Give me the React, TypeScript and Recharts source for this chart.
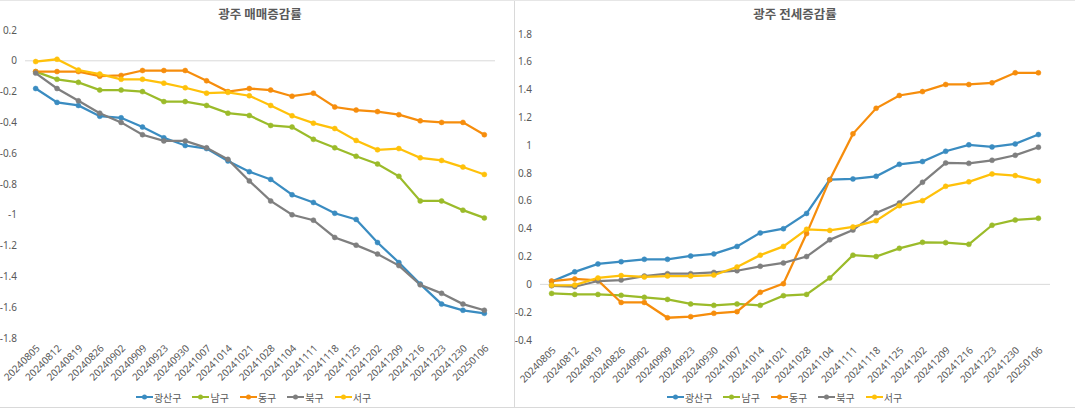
import React from 'react';
import { LineChart, Line, XAxis, YAxis, ReferenceLine, Legend } from 'recharts';

const DATES = [
  '20240805', '20240812', '20240819', '20240826', '20240902', '20240909', '20240923', '20240930',
  '20241007', '20241014', '20241021', '20241028', '20241104', '20241111', '20241118', '20241125',
  '20241202', '20241209', '20241216', '20241223', '20241230', '20250106',
];

const DISTRICTS = ['광산구', '남구', '동구', '북구', '서구'];
const COLORS = ['#3a8cc1', '#9bbb2a', '#f68d0c', '#7f7f7f', '#ffc10a'];

// 매매증감률
const SALE_GWANGSAN = [-0.18, -0.27, -0.29, -0.36, -0.37, -0.43, -0.5, -0.55, -0.57, -0.65, -0.72, -0.77, -0.87, -0.92, -0.99, -1.03, -1.18, -1.31, -1.45, -1.58, -1.62, -1.64];
const SALE_NAM = [-0.07, -0.12, -0.14, -0.19, -0.19, -0.2, -0.265, -0.265, -0.29, -0.34, -0.355, -0.42, -0.43, -0.51, -0.565, -0.62, -0.67, -0.75, -0.91, -0.91, -0.97, -1.02];
const SALE_DONG = [-0.07, -0.07, -0.07, -0.1, -0.095, -0.063, -0.063, -0.063, -0.13, -0.2, -0.18, -0.19, -0.23, -0.21, -0.3, -0.32, -0.33, -0.35, -0.39, -0.4, -0.4, -0.48];
const SALE_BUK = [-0.08, -0.18, -0.26, -0.34, -0.4, -0.48, -0.52, -0.52, -0.565, -0.64, -0.78, -0.91, -1.0, -1.035, -1.147, -1.197, -1.255, -1.33, -1.455, -1.51, -1.58, -1.62];
const SALE_SEO = [-0.005, 0.01, -0.06, -0.086, -0.12, -0.12, -0.145, -0.175, -0.21, -0.205, -0.227, -0.29, -0.357, -0.405, -0.44, -0.517, -0.578, -0.57, -0.63, -0.647, -0.69, -0.738];

// 전세증감률
const RENT_GWANGSAN = [0.02, 0.09, 0.147, 0.163, 0.18, 0.18, 0.204, 0.219, 0.273, 0.37, 0.4, 0.51, 0.753, 0.758, 0.777, 0.863, 0.883, 0.957, 1.003, 0.988, 1.01, 1.077];
const RENT_NAM = [-0.065, -0.072, -0.072, -0.079, -0.093, -0.108, -0.141, -0.151, -0.141, -0.151, -0.081, -0.072, 0.046, 0.21, 0.2, 0.259, 0.302, 0.3, 0.288, 0.425, 0.463, 0.475];
const RENT_DONG = [0.024, 0.039, 0.029, -0.13, -0.13, -0.24, -0.232, -0.208, -0.196, -0.057, 0.005, 0.365, 0.753, 1.082, 1.266, 1.358, 1.386, 1.437, 1.437, 1.449, 1.521, 1.521];
const RENT_BUK = [-0.01, -0.017, 0.024, 0.031, 0.06, 0.077, 0.077, 0.086, 0.098, 0.13, 0.154, 0.2, 0.32, 0.39, 0.514, 0.585, 0.734, 0.873, 0.87, 0.892, 0.928, 0.986];
const RENT_SEO = [-0.007, -0.005, 0.046, 0.063, 0.053, 0.06, 0.06, 0.067, 0.125, 0.21, 0.273, 0.396, 0.388, 0.413, 0.458, 0.566, 0.602, 0.705, 0.737, 0.794, 0.782, 0.744];

const SALE_TICKS = [0.2, 0, -0.2, -0.4, -0.6, -0.8, -1, -1.2, -1.4, -1.6, -1.8];
const RENT_TICKS = [1.8, 1.6, 1.4, 1.2, 1, 0.8, 0.6, 0.4, 0.2, 0, -0.2, -0.4];

const build = (series: number[][]) =>
  DATES.map((d, i) => {
    const row: Record<string, string | number> = { date: d };
    DISTRICTS.forEach((name, k) => { row[name] = series[k][i]; });
    return row;
  });

const saleData = build([SALE_GWANGSAN, SALE_NAM, SALE_DONG, SALE_BUK, SALE_SEO]);
const rentData = build([RENT_GWANGSAN, RENT_NAM, RENT_DONG, RENT_BUK, RENT_SEO]);

const FONT = '"Noto Sans", "Noto Sans CJK KR", sans-serif';
const TEXT = '#595959';

function DateTick(props: any) {
  const { x, y, payload } = props;
  const tx = x + 3;
  const ty = y + 1;
  return (
    <text
      x={tx}
      y={ty}
      transform={`rotate(-45, ${tx}, ${ty})`}
      textAnchor="end"
      dominantBaseline="middle"
      fontSize={10}
      fill={TEXT}
      fontFamily={FONT}
    >
      {payload.value}
    </text>
  );
}

function LegendRow({ shift }: { shift: number }) {
  return (
    <div style={{ display: 'flex', justifyContent: 'center', alignItems: 'center', height: 20, gap: 11, marginLeft: shift }}>
      {DISTRICTS.map((name, i) => (
        <div key={name} style={{ display: 'flex', alignItems: 'center' }}>
          <svg width={17} height={8}>
            <line x1={0} y1={4} x2={17} y2={4} stroke={COLORS[i]} strokeWidth={2} />
            <circle cx={8.5} cy={4} r={2.5} fill={COLORS[i]} />
          </svg>
          <span style={{ fontSize: 10, color: TEXT, fontFamily: FONT, marginLeft: 1 }}>{name}</span>
        </div>
      ))}
    </div>
  );
}

interface PanelProps {
  data: Record<string, string | number>[];
  width: number;
  ticks: number[];
  domain: [number, number];
  top: number;
  right: number;
  axisHeight: number;
  pad: number;
  shift: number;
}

function Panel({ data, width, ticks, domain, top, right, axisHeight, pad, shift }: PanelProps) {
  return (
    <LineChart width={width} height={407} data={data} margin={{ top, right, left: 0, bottom: 0 }}>
      <ReferenceLine y={0} stroke="#d9d9d9" strokeWidth={1} ifOverflow="extendDomain" />
      <XAxis
        dataKey="date"
        interval={0}
        axisLine={false}
        tickLine={false}
        height={axisHeight}
        padding={{ left: pad, right: pad }}
        tick={<DateTick />}
      />
      <YAxis
        type="number"
        domain={domain}
        ticks={ticks}
        interval={0}
        width={25}
        axisLine={false}
        tickLine={false}
        tick={{ fontSize: 10, fill: TEXT, fontFamily: FONT }}
      />
      <Legend verticalAlign="bottom" content={() => <LegendRow shift={shift} />} />
      {DISTRICTS.map((name, i) => (
        <Line
          key={name}
          type="linear"
          dataKey={name}
          stroke={COLORS[i]}
          strokeWidth={2.25}
          dot={{ r: 2.5, fill: COLORS[i], stroke: COLORS[i], strokeWidth: 0.5 }}
          isAnimationActive={false}
        />
      ))}
    </LineChart>
  );
}

const titleStyle: React.CSSProperties = {
  position: 'absolute',
  top: 4,
  fontFamily: '"Noto Sans CJK KR", sans-serif',
  fontSize: 12.5,
  fontWeight: 'bold',
  color: TEXT,
  transform: 'translateX(-50%)',
  whiteSpace: 'nowrap',
};

export default function App() {
  return (
    <div style={{ position: 'absolute', left: 0, top: 0, width: 1075, height: 414, background: '#fff', overflow: 'hidden' }}>
      <div style={{ position: 'absolute', left: 0, top: 0 }}>
        <Panel data={saleData} width={512} ticks={SALE_TICKS} domain={[-1.8, 0.2]} top={30} right={17} axisHeight={49} pad={10.67} shift={12} />
      </div>
      <div style={{ position: 'absolute', left: 515, top: 0 }}>
        <Panel data={rentData} width={560} ticks={RENT_TICKS} domain={[-0.4, 1.8]} top={34} right={25} axisHeight={47} pad={11.6} shift={4} />
      </div>
      <div style={{ ...titleStyle, left: 260 }}>광주 매매증감률</div>
      <div style={{ ...titleStyle, left: 795 }}>광주 전세증감률</div>
      <div style={{ position: 'absolute', left: 514, top: 0, width: 1, height: 407, background: '#d9d9d9' }} />
      <div style={{ position: 'absolute', left: 0, top: 407, width: 1075, height: 1, background: '#d9d9d9' }} />
      <div style={{ position: 'absolute', left: 0, top: 0, width: 1075, height: 1, background: '#e6e6e6' }} />
    </div>
  );
}
